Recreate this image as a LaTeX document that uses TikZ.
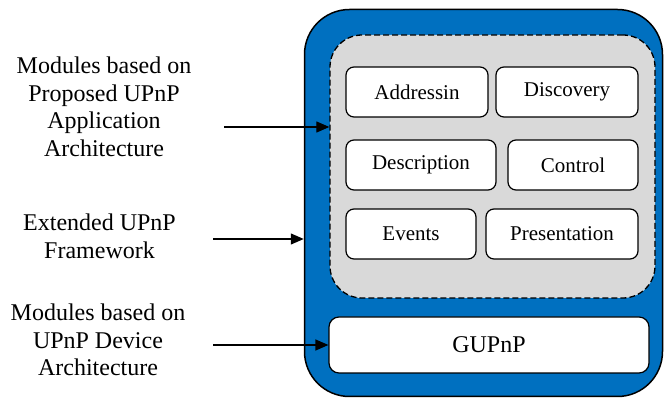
\documentclass[tikz,border=0pt]{standalone}
\usepackage{fontspec}
\setmainfont{Liberation Serif}
\usetikzlibrary{arrows.meta}
\definecolor{outerblue}{HTML}{0070C0}
\definecolor{innergray}{HTML}{D9D9D9}
\begin{document}
\begin{tikzpicture}[x=1pt,y=-1pt,
  module/.style={draw=black,fill=white,line width=1.2pt,rounded corners=8pt,inner sep=0pt,minimum height=50pt,font=\fontsize{21}{25}\selectfont},
  sidelabel/.style={align=center,inner sep=0pt,font=\fontsize{24}{27.5}\selectfont},
  arr/.style={line width=1.2pt,-{Triangle[length=13pt,width=11pt]}}]
\useasboundingbox (0,0) rectangle (665,398);
\node[draw=black,line width=1.5pt,fill=outerblue,rounded corners=45pt,minimum width=358pt,minimum height=387pt,inner sep=0pt] (outer) at (483.5,203) {};
\node[draw=black,line width=1.3pt,dash pattern=on 6pt off 3pt,fill=innergray,rounded corners=32pt,minimum width=325pt,minimum height=263pt,inner sep=0pt] (inner) at (492.5,166.5) {};
\node[module,minimum width=142pt] (addr) at (417,92) {Addressin};
\node[module,minimum width=142pt] (disc) at (567,92) {Discovery};
\node[module,minimum width=150pt] (desc) at (421,165) {Description};
\node[module,minimum width=130pt] (ctrl) at (573,165) {Control};
\node[module,minimum width=130pt] (evts) at (411,234) {Events};
\node[module,minimum width=152pt] (pres) at (562,234) {Presentation};
\node[module,minimum width=320pt,minimum height=56pt,rounded corners=10pt,font=\fontsize{24}{28}\selectfont] (gupnp) at (489,345) {GUPnP};
\node[sidelabel] (lab1) at (104,107) {Modules based on\\Proposed UPnP\\Application\\Architecture};
\node[sidelabel] (lab2) at (99.5,236.5) {Extended UPnP\\Framework};
\node[sidelabel] (lab3) at (98,340) {Modules based on\\UPnP Device\\Architecture};
\coordinate (s1) at (224,127);
\coordinate (s2) at (213,239);
\coordinate (s3) at (213,345);
\draw[arr] (s1) -- (s1 -| inner.west);
\draw[arr] (s2) -- (s2 -| outer.west);
\draw[arr] (s3) -- (s3 -| gupnp.west);
\end{tikzpicture}
\end{document}
